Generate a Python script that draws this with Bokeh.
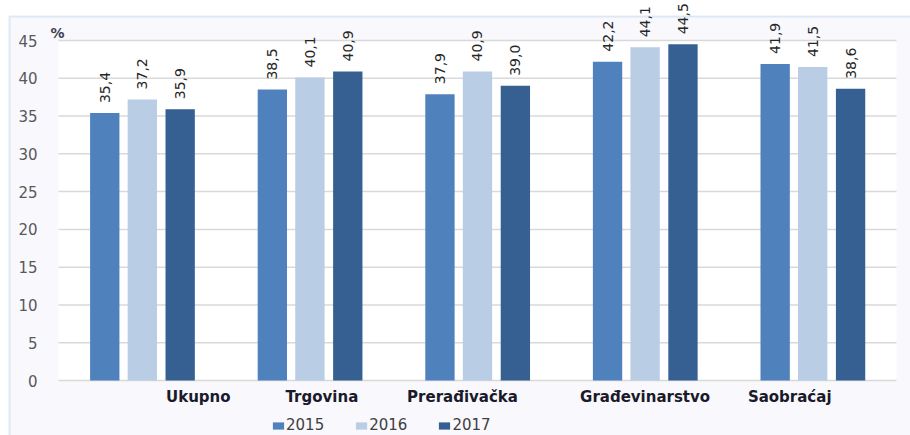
import numpy as np
from bokeh.plotting import figure
from bokeh.models import (ColumnDataSource, Range1d, Legend, LegendItem, Label,
                          LabelSet, BoxAnnotation)
from bokeh.core.properties import value
from bokeh.embed import file_html
from bokeh.resources import INLINE

categories = ["Ukupno", "Trgovina", "Prerađivačka", "Građevinarstvo", "Saobraćaj"]
years = ["2015", "2016", "2017"]
v2015 = [35.4, 38.5, 37.9, 42.2, 41.9]
v2016 = [37.2, 40.1, 40.9, 44.1, 41.5]
v2017 = [35.9, 40.9, 39.0, 44.5, 38.6]
y_ticks = [0, 5, 10, 15, 20, 25, 30, 35, 40, 45]

colors = ["#4f81bd", "#b9cde5", "#376092"]
offsets = [-0.224, 0.0, 0.226]
cat_label_dx = [56, 12, -15, 0, -23]

W, H = 910, 435
# plot-area geometry in pixels
PX_L, PX_R, PX_T, PX_B = 58, 896, 40, 380
YMAX = 45
n = len(categories)
ux = (PX_R - PX_L) / n          # pixels per category
uy = (PX_B - PX_T) / YMAX       # pixels per percent


def xpx(px):
    return (px - PX_L) / ux


def ypx(py):
    return (PX_B - py) / uy


def fmt(v):
    return f"{v:.1f}".replace(".", ",")


xc = np.arange(n) + 0.5
data = dict(cat=categories, xc=xc, v2015=v2015, v2016=v2016, v2017=v2017,
            l2015=[fmt(v) for v in v2015], l2016=[fmt(v) for v in v2016],
            l2017=[fmt(v) for v in v2017], zero=[0] * n, dx=cat_label_dx)
for yr, off in zip(years, offsets):
    data["x" + yr] = xc + off
src = ColumnDataSource(data)

tick_src = ColumnDataSource(dict(y=y_ticks, t=[str(t) for t in y_ticks],
                                 x0=[0] * len(y_ticks), x1=[n] * len(y_ticks)))

p = figure(x_range=Range1d(xpx(0), xpx(W)), y_range=Range1d(ypx(H), ypx(0)),
           width=W, height=H, output_backend="svg", toolbar_location=None,
           min_border=0, x_axis_type=None, y_axis_type=None)
p.outline_line_color = None
p.background_fill_color = "white"
p.border_fill_color = "white"
p.grid.visible = False

# chart frame (light lavender with blue edge)
frame_box = BoxAnnotation(left=xpx(9), right=xpx(W + 20), top=ypx(16), bottom=ypx(H + 20),
                          fill_color="#f8f8fd", fill_alpha=1,
                          line_color="#9cbde2", line_width=2, level="underlay")
p.add_layout(frame_box)

# white plot area
p.quad(left=0, right=n, bottom=0, top=YMAX, fill_color="white", line_color=None)

# gridlines
p.segment(x0="x0", x1="x1", y0="y", y1="y", source=tick_src,
          line_color="#d9d9d9", line_width=1.5)

# y tick labels
p.text(x="x0", y="y", text="t", source=tick_src, x_offset=-21,
       text_align="right", text_baseline="middle",
       text_font=value("DejaVu Sans"), text_font_size="15px", text_color="#595959")

renderers = []
for yr, col in zip(years, colors):
    r = p.vbar(x="x" + yr, top="v" + yr, width=0.175,
               source=src, fill_color=col, line_color=None)
    renderers.append(r)
    ls = LabelSet(x="x" + yr, y="v" + yr, text="l" + yr,
                  source=src, angle=np.pi / 2, text_align="left",
                  text_baseline="middle", y_offset=10,
                  text_font=value("DejaVu Sans"), text_font_size="14px",
                  text_color="#262626")
    p.add_layout(ls)

cat_labels = LabelSet(x="xc", y="zero", text="cat", source=src, x_offset="dx",
                      y_offset=-16, text_align="center", text_baseline="middle",
                      text_font=value("DejaVu Sans"), text_font_size="15px",
                      text_font_style="bold", text_color="#1a1a2a")
p.add_layout(cat_labels)

pct = Label(x=0, y=YMAX, text="%", x_offset=-1, y_offset=8, text_align="center",
            text_baseline="middle", text_font="DejaVu Sans",
            text_font_size="14px", text_font_style="bold", text_color="#404050")
p.add_layout(pct)

legend = Legend(items=[LegendItem(label=yr, renderers=[r]) for yr, r in zip(years, renderers)],
                orientation="horizontal", location=(271, 1))
legend.glyph_width = 14
legend.glyph_height = 9
legend.label_standoff = 1
legend.spacing = 30
legend.padding = 0
legend.margin = 0
legend.label_height = 16
legend.label_text_font = "DejaVu Sans"
legend.label_text_font_size = "15px"
legend.label_text_color = "#404040"
legend.background_fill_alpha = 0
legend.border_line_color = None
p.add_layout(legend, "center")

open("out.html", "w").write(file_html(p, INLINE))
